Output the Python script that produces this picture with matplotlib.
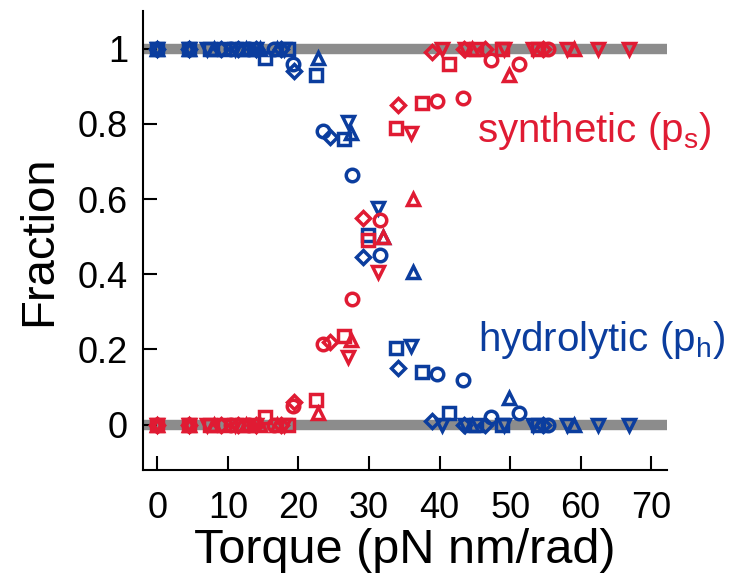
import matplotlib
matplotlib.use('Agg')
import matplotlib.pyplot as plt

plt.rcParams['font.family'] = ['Liberation Sans', 'DejaVu Sans']
plt.rcParams['mathtext.fontset'] = 'custom'
plt.rcParams['mathtext.rm'] = 'Liberation Sans'
plt.rcParams['mathtext.it'] = 'Liberation Sans'

RED = '#e01b33'
BLUE = '#0b3d9e'
GRAY = '#8c8c8c'

# squares
torque_sq = [0, 4.5, 7.5, 9.5, 12, 15.3, 18.5, 22.5, 26.4, 29.9, 33.8, 37.5, 41.4, 45.2, 48.8, 54.0]
ph_sq = [1, 1, 1, 1, 1, 0.975, 1, 0.93, 0.76, 0.505, 0.205, 0.14, 0.03, 0, 0, 0]
ps_sq = [0, 0, 0, 0, 0, 0.02, 0, 0.065, 0.235, 0.49, 0.79, 0.855, 0.96, 1, 1, 1]

# circles
torque_ci = [0, 4.5, 10.5, 13, 16.5, 19.2, 23.5, 27.6, 31.5, 39.6, 43.3, 47.3, 51.2, 55.3]
ph_ci = [1, 1, 1, 1, 1, 0.96, 0.78, 0.665, 0.45, 0.135, 0.12, 0.02, 0.03, 0]
ps_ci = [0, 0, 0, 0, 0, 0.05, 0.215, 0.335, 0.545, 0.86, 0.87, 0.97, 0.96, 1]

# diamonds
torque_di = [0, 4.5, 9, 11.5, 14, 17.5, 19.3, 24.4, 29.2, 34.1, 38.9, 43.4, 46.5, 54.6]
ph_di = [1, 1, 1, 1, 1, 1, 0.94, 0.765, 0.445, 0.15, 0.01, 0, 0, 0]
ps_di = [0, 0, 0, 0, 0, 0, 0.06, 0.22, 0.55, 0.85, 0.99, 1, 1, 1]

# triangles up
torque_tu = [0, 4.5, 8, 12.5, 14.5, 17, 22.8, 27.5, 32.0, 36.3, 44.6, 49.9, 59.0]
ph_tu = [1, 1, 1, 1, 1, 1, 0.975, 0.775, 0.5, 0.405, 0, 0.07, 0]
ps_tu = [0, 0, 0, 0, 0, 0, 0.03, 0.225, 0.5, 0.6, 1, 0.93, 1]

# triangles down
torque_td = [0, 4.5, 7, 11, 14, 18, 27.0, 31.3, 35.9, 40.3, 43.6, 49.2, 53.3, 58.0, 62.4, 66.9]
ph_td = [1, 1, 1, 1, 1, 1, 0.805, 0.575, 0.21, 0, 0, 0, 0, 0, 0, 0]
ps_td = [0, 0, 0, 0, 0, 0, 0.18, 0.405, 0.775, 1, 1, 1, 1, 1, 1, 1]

series = [
    (torque_sq, ph_sq, ps_sq, 's', 8),
    (torque_ci, ph_ci, ps_ci, 'o', 9),
    (torque_di, ph_di, ps_di, 'D', 7),
    (torque_tu, ph_tu, ps_tu, '^', 9),
    (torque_td, ph_td, ps_td, 'v', 9),
]

fig = plt.figure(figsize=(7.5, 5.8), dpi=100)
ax = fig.add_axes([0.191, 0.19, 0.698, 0.791])

ax.axhline(0, color=GRAY, lw=7.5, zorder=1)
ax.axhline(1, color=GRAY, lw=7.5, zorder=1)

for tq, ph, ps, mk, ms in series:
    ax.plot(tq, ph, linestyle='none', marker=mk, ms=ms, mfc='none',
            mec=BLUE, mew=2.5, zorder=3)
for tq, ph, ps, mk, ms in series:
    ax.plot(tq, ps, linestyle='none', marker=mk, ms=ms, mfc='none',
            mec=RED, mew=2.5, zorder=4)

ax.set_xlim(-2, 72.2)
ax.set_ylim(-0.12, 1.1)
ax.set_xticks(range(0, 71, 10))
ax.set_yticks([0, 0.2, 0.4, 0.6, 0.8, 1])
ax.set_yticklabels(['0', '0.2', '0.4', '0.6', '0.8', '1'])

for s in ['top', 'right']:
    ax.spines[s].set_visible(False)
for s in ['left', 'bottom']:
    ax.spines[s].set_linewidth(1.5)

ax.tick_params(direction='in', length=10, width=1.5, labelsize=26)
ax.tick_params(axis='x', pad=15)
ax.tick_params(axis='y', pad=11)

ax.set_xlabel('Torque (pN nm/rad)', fontsize=35, labelpad=2)
ax.set_ylabel('Fraction', fontsize=34, labelpad=12)

ax.text(45.3, 0.78, r'synthetic (p$_\mathrm{s}$)', color=RED, fontsize=29,
        va='center', ha='left')
ax.text(45.4, 0.225, r'hydrolytic (p$_\mathrm{h}$)', color=BLUE, fontsize=29,
        va='center', ha='left')

fig.savefig('out.png', dpi=100)
